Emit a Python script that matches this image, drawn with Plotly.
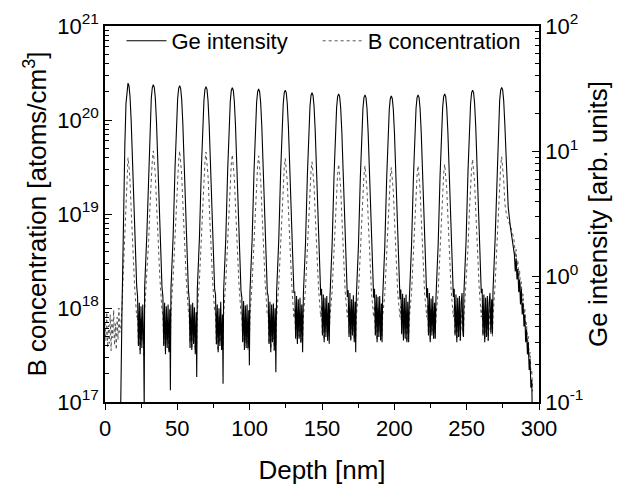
import plotly.graph_objects as go

# ---------------- data ----------------
DEPTH_NM = [
    # surface region
    0.0, 0.6, 1.2, 1.8, 2.4, 3.0, 3.6, 4.2, 4.8, 5.4, 6.0, 6.6, 7.2, 7.8, 8.4, 9.0, 9.6, 10.2,
    # peak 1
    10.9, 11.7, 12.7, 13.7, 14.5, 15.2, 15.9, 16.6, 17.3, 18.1, 19.1, 20.4, 21.9,
    # valley 1
    22.5, 23.1, 23.7, 24.3, 24.9, 25.5, 26.1, 26.7, 27.1,
    # peak 2
    27.4, 28.9, 30.2, 31.2, 32.0, 32.7, 33.4, 34.1, 34.8, 35.6, 36.6, 37.9, 39.4,
    # valley 2
    40.0, 40.6, 41.2, 41.8, 42.4, 43.0, 43.6, 44.2, 44.8, 45.2,
    # peak 3
    45.6, 47.1, 48.4, 49.4, 50.2, 50.9, 51.6, 52.3, 53.0, 53.8, 54.8, 56.1, 57.6,
    # valley 3
    58.2, 58.8, 59.4, 60.0, 60.6, 61.2, 61.8, 62.4, 63.0, 63.4,
    # peak 4
    63.8, 65.3, 66.6, 67.6, 68.4, 69.1, 69.8, 70.5, 71.2, 72.0, 73.0, 74.3, 75.8,
    # valley 4
    76.4, 77.0, 77.6, 78.2, 78.8, 79.4, 80.0, 80.6, 81.2, 81.6,
    # peak 5
    82.0, 83.5, 84.8, 85.8, 86.6, 87.3, 88.0, 88.7, 89.4, 90.2, 91.2, 92.5, 94.0,
    # valley 5
    94.6, 95.2, 95.8, 96.4, 97.0, 97.6, 98.2, 98.8, 99.4, 99.8,
    # peak 6
    100.2, 101.7, 103.0, 104.0, 104.8, 105.5, 106.2, 106.9, 107.6, 108.4, 109.4, 110.7, 112.2,
    # valley 6
    112.8, 113.4, 114.0, 114.6, 115.2, 115.8, 116.4, 117.0, 117.6, 118.1,
    # peak 7
    118.6, 120.1, 121.4, 122.4, 123.2, 123.9, 124.6, 125.3, 126.0, 126.8, 127.8, 129.1, 130.6,
    # valley 7
    131.2, 131.8, 132.4, 133.0, 133.6, 134.2, 134.8, 135.4, 136.0, 136.6,
    # peak 8
    137.1, 138.6, 139.9, 140.9, 141.7, 142.4, 143.1, 143.8, 144.5, 145.3, 146.3, 147.6, 149.1,
    # valley 8
    149.7, 150.3, 150.9, 151.5, 152.1, 152.7, 153.3, 153.9, 154.5, 155.0,
    # peak 9
    155.5, 157.0, 158.3, 159.3, 160.1, 160.8, 161.5, 162.2, 162.9, 163.7, 164.7, 166.0, 167.5,
    # valley 9
    168.1, 168.7, 169.3, 169.9, 170.5, 171.1, 171.7, 172.3, 172.9, 173.3,
    # peak 10
    173.7, 175.2, 176.5, 177.5, 178.3, 179.0, 179.7, 180.4, 181.1, 181.9, 182.9, 184.2, 185.7,
    # valley 10
    186.3, 186.9, 187.5, 188.1, 188.7, 189.3, 189.9, 190.5, 191.1, 191.5,
    # peak 11
    191.9, 193.4, 194.7, 195.7, 196.5, 197.2, 197.9, 198.6, 199.3, 200.1, 201.1, 202.4, 203.9,
    # valley 11
    204.5, 205.1, 205.7, 206.3, 206.9, 207.5, 208.1, 208.7, 209.3, 209.9,
    # peak 12
    210.4, 211.9, 213.2, 214.2, 215.0, 215.7, 216.4, 217.1, 217.8, 218.6, 219.6, 220.9, 222.4,
    # valley 12
    223.0, 223.6, 224.2, 224.8, 225.4, 226.0, 226.6, 227.2, 227.8, 228.3,
    # peak 13
    228.8, 230.3, 231.6, 232.6, 233.4, 234.1, 234.8, 235.5, 236.2, 237.0, 238.0, 239.3, 240.8,
    # valley 13
    241.4, 242.0, 242.6, 243.2, 243.8, 244.4, 245.0, 245.6, 246.2, 246.8, 247.4, 247.8,
    # peak 14
    248.1, 249.6, 250.9, 251.9, 252.7, 253.4, 254.1, 254.8, 255.5, 256.3, 257.3, 258.6, 260.1,
    # valley 14
    260.7, 261.3, 261.9, 262.5, 263.1, 263.7, 264.3, 264.9, 265.5, 266.1, 266.7, 267.3, 267.8,
    # peak 15
    268.2, 269.7, 271.0, 272.0, 272.8, 273.5, 274.2, 274.9, 275.6, 276.4, 277.4,
    # tail
    278.7, 280.2, 282.0, 283.0, 283.6, 284.2, 284.8, 285.4, 286.0, 286.6, 287.2, 287.8, 288.4,
    289.0, 289.6, 290.2, 290.8, 291.4, 292.0, 292.6, 293.2, 293.8, 294.4, 295.0, 295.6,
]

GE_INTENSITY = [
    None, None, None, None, None, None, None, None, None, None, None, None, None, None, None, None, None, 0.05,
    0.1, 0.5, 3.2, 11, 24, 32, 35, 33.3, 27.3, 17.5, 7.7, 2.2, 0.84,
    0.7, 0.28, 0.62, 0.24, 0.58, 0.27, 0.6, 0.3, 0.09,
    0.82, 2.14, 7.5, 17, 26.5, 32.3, 34, 32.3, 26.5, 17, 7.5, 2.14, 0.82,
    0.7, 0.28, 0.62, 0.24, 0.58, 0.27, 0.6, 0.25, 0.55, 0.124,
    0.8, 2.1, 7.35, 16.7, 26.1, 31.7, 33.4, 31.7, 26.1, 16.7, 7.35, 2.1, 0.8,
    0.66, 0.27, 0.6, 0.26, 0.62, 0.29, 0.57, 0.24, 0.52, 0.158,
    0.79, 2.07, 7.2, 16.4, 25.6, 31.2, 32.8, 31.2, 25.6, 16.4, 7.2, 2.07, 0.79,
    0.72, 0.29, 0.6, 0.25, 0.56, 0.28, 0.63, 0.26, 0.5, 0.14,
    0.77, 2.03, 7.1, 16.1, 25.1, 30.6, 32.2, 30.6, 25.1, 16.1, 7.1, 2.03, 0.77,
    0.68, 0.3, 0.64, 0.26, 0.59, 0.27, 0.6, 0.27, 0.54, 0.196,
    0.75, 1.98, 6.9, 15.7, 24.5, 29.8, 31.4, 29.8, 24.5, 15.7, 6.9, 1.98, 0.75,
    0.7, 0.29, 0.63, 0.25, 0.6, 0.3, 0.61, 0.26, 0.56, 0.173,
    0.74, 1.94, 6.8, 15.4, 24.0, 29.3, 30.8, 29.3, 24.0, 15.4, 6.8, 1.94, 0.74,
    0.76, 0.32, 0.7, 0.29, 0.66, 0.32, 0.68, 0.3, 0.6, 0.249,
    0.71, 1.85, 6.5, 14.7, 22.9, 27.9, 29.4, 27.9, 22.9, 14.7, 6.5, 1.85, 0.71,
    0.8, 0.34, 0.72, 0.3, 0.68, 0.33, 0.7, 0.31, 0.62, 0.292,
    0.69, 1.81, 6.3, 14.4, 22.4, 27.3, 28.7, 27.3, 22.4, 14.4, 6.3, 1.81, 0.69,
    0.78, 0.33, 0.74, 0.31, 0.66, 0.34, 0.71, 0.3, 0.63, 0.249,
    0.68, 1.78, 6.2, 14.1, 22.0, 26.8, 28.2, 26.8, 22.0, 14.1, 6.2, 1.78, 0.68,
    0.8, 0.34, 0.72, 0.3, 0.69, 0.33, 0.7, 0.31, 0.61, 0.3,
    0.66, 1.75, 6.1, 13.9, 21.6, 26.3, 27.7, 26.3, 21.6, 13.9, 6.1, 1.75, 0.66,
    0.79, 0.35, 0.73, 0.31, 0.68, 0.32, 0.72, 0.3, 0.63, 0.3,
    0.68, 1.78, 6.2, 14.1, 22.0, 26.8, 28.2, 26.8, 22.0, 14.1, 6.2, 1.78, 0.68,
    0.81, 0.34, 0.74, 0.3, 0.67, 0.34, 0.7, 0.32, 0.62, 0.32,
    0.69, 1.81, 6.3, 14.4, 22.4, 27.3, 28.7, 27.3, 22.4, 14.4, 6.3, 1.81, 0.69,
    0.8, 0.34, 0.72, 0.3, 0.68, 0.33, 0.7, 0.31, 0.62, 0.74, 0.36, 0.33,
    0.74, 1.94, 6.8, 15.4, 24.0, 29.3, 30.8, 29.3, 24.0, 15.4, 6.8, 1.94, 0.74,
    0.8, 0.34, 0.72, 0.3, 0.68, 0.33, 0.7, 0.31, 0.62, 0.74, 0.36, 0.66, 0.35,
    0.77, 2.04, 7.1, 16.2, 25.3, 30.8, 32.4, 30.8, 25.3, 16.2, 7.5,
    3.6, 2.5, 1.8, 1.5, 1.1, 1.4, 0.95, 1.15, 0.75, 0.95, 0.6, 0.8, 0.5,
    0.62, 0.4, 0.5, 0.3, 0.38, 0.24, 0.3, 0.18, 0.22, 0.13, 0.15, 0.05,
]

B_CONCENTRATION = [
    7e17, 4.5e17, 9e17, 3.8e17, 6.5e17, 4.2e17, 8.5e17, 3.5e17, 7.5e17, 4.8e17, 9.5e17, 4e17, 6.8e17, 3.6e17, 8e17, 4.6e17, 1e18, 5.5e17,
    6.3e17, 1.0e18, 2.5e18, 6e18, 1.5e19, 2.8e19, 3.98e19, 3.16e19, 2.24e19, 1.12e19, 4.46e18, 1.78e18, 8.0e17,
    8.5e17, 4.2e17, 7.5e17, 3.6e17, 8.0e17, 4.4e17, 7.0e17, 3.5e17, 3.0e17,
    9.4e17, 2.1e18, 5.25e18, 1.32e19, 2.64e19, 3.72e19, 4.69e19, 3.72e19, 2.64e19, 1.32e19, 5.25e18, 2.1e18, 9.4e17,
    8.5e17, 4.2e17, 7.5e17, 3.6e17, 8.0e17, 4.4e17, 7.0e17, 3.5e17, 6.5e17, 4.0e17,
    9.4e17, 2.1e18, 5.25e18, 1.32e19, 2.64e19, 3.72e19, 4.69e19, 3.72e19, 2.64e19, 1.32e19, 5.25e18, 2.1e18, 9.4e17,
    8.2e17, 4.3e17, 7.8e17, 3.7e17, 7.9e17, 4.5e17, 7.2e17, 3.6e17, 6.6e17, 4.1e17,
    9.1e17, 2.04e18, 5.12e18, 1.29e19, 2.57e19, 3.63e19, 4.57e19, 3.63e19, 2.57e19, 1.29e19, 5.12e18, 2.04e18, 9.1e17,
    8.6e17, 4.1e17, 7.6e17, 3.5e17, 8.1e17, 4.3e17, 7.1e17, 3.6e17, 6.4e17, 4.0e17,
    8.6e17, 1.91e18, 4.79e18, 1.21e19, 2.41e19, 3.4e19, 4.28e19, 3.4e19, 2.41e19, 1.21e19, 4.79e18, 1.91e18, 8.6e17,
    8.4e17, 4.4e17, 7.7e17, 3.8e17, 7.9e17, 4.2e17, 7.3e17, 3.6e17, 6.7e17, 4.2e17,
    8.3e17, 1.86e18, 4.65e18, 1.17e19, 2.33e19, 3.3e19, 4.15e19, 3.3e19, 2.33e19, 1.17e19, 4.65e18, 1.86e18, 8.3e17,
    8.5e17, 4.2e17, 7.6e17, 3.7e17, 8.0e17, 4.4e17, 7.2e17, 3.5e17, 6.6e17, 4.1e17,
    7.8e17, 1.75e18, 4.38e18, 1.1e19, 2.2e19, 3.1e19, 3.91e19, 3.1e19, 2.2e19, 1.1e19, 4.38e18, 1.75e18, 7.8e17,
    9.6e17, 4.8e17, 8.8e17, 4.3e17, 9.3e17, 5.0e17, 8.4e17, 4.2e17, 7.8e17, 4.6e17,
    8e17, 1.6e18, 4.02e18, 1.01e19, 2.02e19, 2.85e19, 3.59e19, 2.85e19, 2.02e19, 1.01e19, 4.02e18, 1.6e18, 8e17,
    1.05e18, 5.2e17, 9.5e17, 4.6e17, 1.0e18, 5.5e17, 9.0e17, 4.5e17, 8.5e17, 5.0e17,
    8e17, 1.51e18, 3.79e18, 9.5e18, 1.9e19, 2.68e19, 3.38e19, 2.68e19, 1.9e19, 9.5e18, 3.79e18, 1.51e18, 8e17,
    1.03e18, 5.3e17, 9.6e17, 4.7e17, 9.8e17, 5.4e17, 9.2e17, 4.6e17, 8.6e17, 4.9e17,
    8e17, 1.46e18, 3.65e18, 9.2e18, 1.83e19, 2.59e19, 3.26e19, 2.59e19, 1.83e19, 9.2e18, 3.65e18, 1.46e18, 8e17,
    1.05e18, 5.1e17, 9.4e17, 4.6e17, 1.01e18, 5.6e17, 8.9e17, 4.5e17, 8.4e17, 5.1e17,
    8e17, 1.39e18, 3.49e18, 8.8e18, 1.75e19, 2.48e19, 3.12e19, 2.48e19, 1.75e19, 8.8e18, 3.49e18, 1.39e18, 8e17,
    1.04e18, 5.2e17, 9.5e17, 4.7e17, 1.0e18, 5.4e17, 9.1e17, 4.4e17, 8.6e17, 5.2e17,
    8e17, 1.46e18, 3.65e18, 9.2e18, 1.83e19, 2.59e19, 3.26e19, 2.59e19, 1.83e19, 9.2e18, 3.65e18, 1.46e18, 8e17,
    1.06e18, 5.3e17, 9.4e17, 4.6e17, 1.0e18, 5.5e17, 9.0e17, 4.6e17, 8.5e17, 5.3e17,
    8e17, 1.51e18, 3.79e18, 9.5e18, 1.9e19, 2.68e19, 3.38e19, 2.68e19, 1.9e19, 9.5e18, 3.79e18, 1.51e18, 8e17,
    1.05e18, 5.2e17, 9.5e17, 4.6e17, 1.0e18, 5.5e17, 9.0e17, 4.5e17, 8.5e17, 1.0e18, 5.3e17, 5.0e17,
    8e17, 1.71e18, 4.28e18, 1.08e19, 2.15e19, 3.03e19, 3.82e19, 3.03e19, 2.15e19, 1.08e19, 4.28e18, 1.71e18, 8e17,
    1.05e18, 5.2e17, 9.5e17, 4.6e17, 1.0e18, 5.5e17, 9.0e17, 4.5e17, 8.5e17, 1.0e18, 5.3e17, 9.2e17, 5.0e17,
    8e17, 1.82e18, 4.57e18, 1.15e19, 2.29e19, 3.24e19, 4.08e19, 3.24e19, 2.29e19, 1.3e19, 1.0e19,
    8.5e18, 7.5e18, 6e18, 5e18, 3.5e18, 4.2e18, 2.8e18, 3.2e18, 2.1e18, 2.5e18, 1.6e18, 1.9e18, 1.2e18,
    1.4e18, 8.5e17, 1.0e18, 6e17, 7e17, 4.2e17, 5e17, 3e17, 3.4e17, 2e17, 2.2e17, 1.3e17,
]

X_TICKS = [0, 50, 100, 150, 200, 250, 300]
B_TICKS = [1e17, 1e18, 1e19, 1e20, 1e21]
B_TICK_TEXT = ["10<sup>17</sup>", "10<sup>18</sup>", "10<sup>19</sup>", "10<sup>20</sup>", "10<sup>21</sup>"]
GE_TICKS = [0.1, 1.0, 10.0, 100.0]
GE_TICK_TEXT = ["10<sup>-1</sup>", "10<sup>0</sup>", "10<sup>1</sup>", "10<sup>2</sup>"]

assert len(DEPTH_NM) == len(GE_INTENSITY) == len(B_CONCENTRATION), (
    len(DEPTH_NM), len(GE_INTENSITY), len(B_CONCENTRATION))

FONT = "Liberation Sans, Arial, Helvetica, sans-serif"

b_minor = [float(m) * 10.0 ** e for e in range(17, 21) for m in range(2, 10)]
ge_minor = [float(m) * 10.0 ** e for e in range(-1, 2) for m in range(2, 10)]

fig = go.Figure()
fig.add_trace(go.Scatter(
    x=DEPTH_NM, y=GE_INTENSITY, name="Ge intensity", mode="lines",
    line=dict(color="black", width=1.1), yaxis="y2", connectgaps=False, legend="legend",
))
fig.add_trace(go.Scatter(
    x=DEPTH_NM, y=B_CONCENTRATION, name="B concentration", mode="lines",
    line=dict(color="#555555", width=1, dash="dot"), yaxis="y", legend="legend2",
))

axis_common = dict(showline=True, linecolor="black", linewidth=1.5, showgrid=False,
                   zeroline=False, tickcolor="black", tickwidth=1.2, automargin=False,
                   tickfont=dict(size=22, color="black", family=FONT))

legend_common = dict(orientation="h", y=1.016, xanchor="left", yanchor="top",
                     bgcolor="rgba(0,0,0,0)", font=dict(size=22, family=FONT), itemwidth=40)

# the page body adds an 8 px offset, so the figure is 8 px smaller and margins shifted
fig.update_layout(
    width=616, height=483,
    margin=dict(l=97, r=85, t=14, b=89),
    paper_bgcolor="white", plot_bgcolor="white",
    font=dict(family=FONT, color="black"),
    showlegend=True,
    legend=dict(x=0.038, **legend_common),
    legend2=dict(x=0.49, **legend_common),
    xaxis=dict(
        range=[0, 300], tickvals=X_TICKS, ticks="outside", ticklen=6, mirror=True,
        title=dict(text="Depth [nm]", font=dict(size=26, family=FONT), standoff=21),
        minor=dict(dtick=25, tick0=0, ticks="outside", ticklen=4, tickcolor="black", showgrid=False),
        **axis_common,
    ),
    yaxis=dict(
        type="log", range=[17, 21], tickvals=B_TICKS, ticktext=B_TICK_TEXT,
        ticks="inside", ticklen=7,
        title=dict(text="B concentration [atoms/cm<sup>3</sup>]", font=dict(size=26, family=FONT), standoff=3),
        minor=dict(tickvals=b_minor, ticks="inside", ticklen=4, tickcolor="black", showgrid=False),
        **axis_common,
    ),
    yaxis2=dict(
        type="log", range=[-1, 2], tickvals=GE_TICKS, ticktext=GE_TICK_TEXT,
        overlaying="y", side="right", ticks="inside", ticklen=7,
        title=dict(text="Ge intensity [arb. units]", font=dict(size=26, family=FONT), standoff=6),
        minor=dict(tickvals=ge_minor, ticks="inside", ticklen=4, tickcolor="black", showgrid=False),
        **axis_common,
    ),
)

fig.write_html("out.html")
